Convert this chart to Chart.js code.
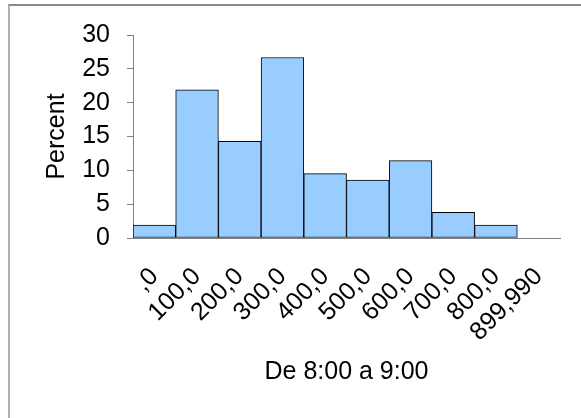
<!DOCTYPE html>
<html>
<head>
<meta charset="utf-8">
<script src="https://cdn.jsdelivr.net/npm/chart.js@4.4.1/dist/chart.umd.min.js"></script>
<style>
  html, body { margin: 0; padding: 0; background: #fff; }
  #wrap { position: relative; width: 581px; height: 418px; overflow: hidden; }
  #frame { position: absolute; left: 8px; top: 4px; right: -10px; bottom: -10px;
           border-left: 2px solid #b0b0b0; border-top: 2px solid #8a8a8a; }
  canvas { position: absolute; left: 0; top: 0; }
</style>
</head>
<body>
<div id="wrap">
  <div id="frame"></div>
  <canvas id="c" width="581" height="418"></canvas>
</div>
<script>
const categories = [",0", "100,0", "200,0", "300,0", "400,0", "500,0", "600,0", "700,0", "800,0", "899,990"];
const percentValues = [1.90, 21.90, 14.29, 26.67, 9.52, 8.57, 11.43, 3.81, 1.90, null];
const yTicks = [0, 5, 10, 15, 20, 25, 30];
const xTitle = "De 8:00 a 9:00";
const yTitle = "Percent";

const FONT = "'Liberation Sans', Arial, Helvetica, sans-serif";

new Chart(document.getElementById('c'), {
  type: 'bar',
  data: {
    labels: categories,
    datasets: [{
      data: percentValues,
      backgroundColor: '#99CCFF',
      borderColor: '#000000',
      borderWidth: 1,
      borderSkipped: false,
      barPercentage: 1.0,
      categoryPercentage: 1.0
    }]
  },
  options: {
    responsive: false,
    animation: false,
    devicePixelRatio: 1,
    layout: { padding: { left: 0, right: 21, top: 35, bottom: 0 } },
    plugins: { legend: { display: false }, tooltip: { enabled: false } },
    scales: {
      x: {
        grid: { display: false },
        border: { display: true, color: '#808080', width: 1 },
        ticks: {
          color: '#000',
          font: { family: FONT, size: 25 },
          minRotation: 45, maxRotation: 45,
          padding: 16,
          autoSkip: false
        },
        title: {
          display: true, text: xTitle, color: '#000',
          font: { family: FONT, size: 25 },
          padding: { top: 0, bottom: 31 }
        },
        afterFit: (s) => { s.height = 180; }
      },
      y: {
        min: 0, max: 30,
        afterBuildTicks: (s) => { s.ticks = yTicks.map(v => ({ value: v })); },
        grid: { drawOnChartArea: false, drawTicks: true, tickLength: 6, color: '#808080' },
        border: { display: true, color: '#808080', width: 1 },
        ticks: {
          color: '#000',
          font: { family: FONT, size: 25 },
          padding: 17
        },
        title: {
          display: true, text: yTitle, color: '#000',
          font: { family: FONT, size: 25 },
          padding: { top: 42, bottom: 0 }
        },
        afterFit: (s) => { s.width = 133; }
      }
    }
  }
});
</script>
</body>
</html>
